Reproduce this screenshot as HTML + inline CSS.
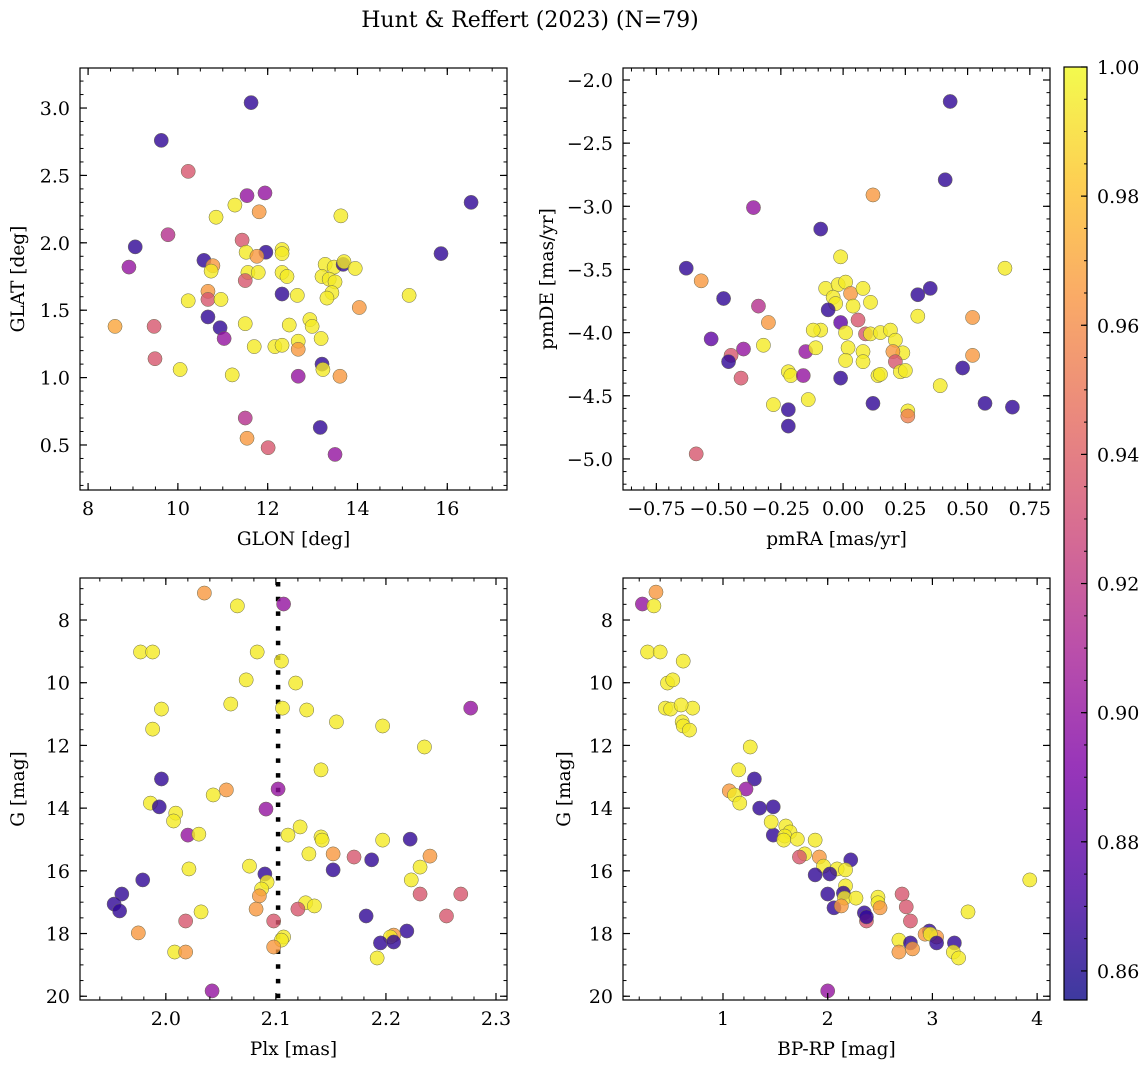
<!DOCTYPE html>
<html><head><meta charset="utf-8">
<style>
html,body{margin:0;padding:0;background:#fff;}
svg{display:block;font-family:"DejaVu Serif","Liberation Serif",serif;}
</style></head>
<body>
<svg id="fig" width="1148" height="1067" viewBox="0 0 1148 1067" xmlns="http://www.w3.org/2000/svg">
<text x="530" y="27" font-size="22" text-anchor="middle">Hunt &amp; Reffert (2023) (N=79)</text>
</svg>
<script>
// colour value codes
const D=0.865,P=0.90,M=0.915,K=0.935,O=0.965,Y=0.995;
// Panel 1: GLON vs GLAT
const glon=[11.63,9.63,10.23,16.53,11.54,11.94,11.27,10.85,13.63,11.81,9.78,9.05,8.91,11.43,10.58,10.78,10.74,11.52,11.96,12.32,12.32,11.56,11.79,12.32,12.43,11.50,11.76,13.28,13.48,13.68,13.70,13.95,15.86,13.21,13.37,13.50,13.43,13.32,12.66,12.32,10.67,10.67,10.96,10.23,14.04,15.15,8.60,9.47,10.67,10.94,11.03,11.50,12.48,12.94,12.99,13.19,12.16,12.32,11.70,12.68,12.68,9.49,10.05,13.21,13.23,11.21,12.68,13.61,11.50,13.17,11.54,12.01,13.50];
const glat=[3.04,2.76,2.53,2.30,2.35,2.37,2.28,2.19,2.20,2.23,2.06,1.97,1.82,2.02,1.87,1.83,1.79,1.93,1.93,1.95,1.92,1.78,1.78,1.78,1.75,1.72,1.90,1.84,1.82,1.84,1.86,1.81,1.92,1.75,1.73,1.71,1.63,1.59,1.61,1.62,1.64,1.58,1.58,1.57,1.52,1.61,1.38,1.38,1.45,1.37,1.29,1.40,1.39,1.43,1.38,1.29,1.23,1.24,1.23,1.27,1.21,1.14,1.06,1.10,1.06,1.02,1.01,1.01,0.70,0.63,0.55,0.48,0.43];
const c1=[D,D,K,D,P,P,Y,Y,Y,O,M,D,P,K,D,O,Y,Y,D,Y,Y,Y,Y,Y,Y,K,O,Y,Y,D,Y,Y,D,Y,Y,Y,Y,Y,Y,D,O,K,Y,Y,O,Y,0.97,K,D,D,P,Y,Y,Y,Y,Y,Y,Y,Y,Y,O,K,Y,D,Y,Y,P,O,M,D,O,K,P];
// Panel 2: pmRA vs pmDE
const pmra=[0.43,0.41,-0.36,0.12,-0.09,-0.63,-0.57,0.65,-0.01,-0.07,-0.02,0.01,0.03,0.08,0.35,0.30,-0.48,-0.34,-0.04,-0.03,0.04,0.11,-0.06,-0.01,0.06,0.52,0.30,-0.53,-0.09,-0.12,0.01,0.09,0.11,0.15,0.19,-0.30,-0.32,-0.40,-0.45,-0.46,-0.15,-0.11,0.02,0.08,0.21,0.24,0.20,0.52,0.01,0.08,0.21,0.14,0.15,0.23,0.25,-0.22,-0.21,-0.16,-0.41,-0.01,0.48,0.39,-0.14,-0.28,0.12,0.57,0.68,-0.22,0.26,0.26,-0.22,-0.59];
const pmde=[-2.17,-2.79,-3.01,-2.91,-3.18,-3.49,-3.59,-3.49,-3.40,-3.65,-3.62,-3.60,-3.69,-3.65,-3.65,-3.70,-3.73,-3.79,-3.72,-3.77,-3.79,-3.76,-3.82,-3.92,-3.90,-3.88,-3.87,-4.05,-3.98,-3.98,-4.00,-4.01,-4.01,-4.00,-3.98,-3.92,-4.10,-4.13,-4.18,-4.23,-4.15,-4.12,-4.12,-4.15,-4.06,-4.16,-4.15,-4.18,-4.22,-4.23,-4.23,-4.34,-4.33,-4.31,-4.30,-4.31,-4.34,-4.34,-4.36,-4.36,-4.28,-4.42,-4.53,-4.57,-4.56,-4.56,-4.59,-4.61,-4.62,-4.66,-4.74,-4.96];
const c2=[D,D,P,O,D,D,O,Y,Y,Y,Y,Y,O,Y,D,D,D,M,Y,Y,Y,Y,D,0.88,K,O,Y,0.88,Y,Y,Y,K,Y,Y,Y,O,Y,P,K,D,P,Y,Y,Y,Y,Y,O,O,Y,Y,K,Y,Y,Y,Y,Y,Y,P,K,D,D,Y,Y,Y,D,D,D,D,Y,0.955,D,K];
// Panel 3: Plx vs G
const plx=[2.035,2.107,2.065,1.977,1.988,2.083,2.105,2.073,2.118,2.277,1.996,2.059,2.106,2.128,2.155,2.197,1.988,2.235,2.141,1.996,2.055,2.102,2.043,1.986,1.994,2.091,2.009,2.007,2.111,2.020,2.030,2.122,2.141,2.142,2.197,2.222,2.130,2.152,2.171,2.187,2.240,2.231,2.021,2.076,2.152,2.090,2.092,2.223,1.979,1.960,2.231,1.953,1.958,2.087,2.085,2.127,2.135,2.082,2.120,2.032,2.018,2.098,1.975,2.107,2.105,2.182,2.219,2.207,2.204,2.195,2.207,2.008,2.018,2.098,2.192,2.042,2.268,2.255];
const gp=[7.14,7.49,7.55,9.02,9.02,9.02,9.31,9.91,10.01,10.81,10.84,10.68,10.81,10.87,11.25,11.38,11.48,12.05,12.78,13.07,13.42,13.39,13.58,13.84,13.96,14.03,14.16,14.41,14.86,14.86,14.83,14.60,14.92,15.02,15.02,14.99,15.46,15.46,15.56,15.65,15.53,15.88,15.94,15.85,15.97,16.10,16.36,16.29,16.29,16.74,16.74,17.06,17.28,16.58,16.80,17.02,17.12,17.22,17.22,17.31,17.60,17.60,17.98,18.11,18.21,17.44,17.92,18.05,18.11,18.30,18.27,18.59,18.59,18.43,18.78,19.83,16.74,17.44];
const c3=[O,P,Y,Y,Y,Y,Y,Y,Y,P,Y,Y,Y,Y,Y,Y,Y,Y,Y,D,O,P,Y,Y,D,P,Y,Y,Y,P,Y,Y,Y,Y,Y,D,Y,O,K,D,O,Y,Y,Y,D,D,Y,Y,D,D,K,D,D,Y,O,Y,Y,O,K,Y,K,K,O,Y,Y,D,D,O,Y,D,D,Y,O,O,Y,P,K,K];
// Panel 4: BP-RP vs G
const bprp=[0.23,0.36,0.34,0.28,0.40,0.62,0.47,0.52,0.45,0.50,0.71,0.60,0.61,0.62,0.68,1.26,1.15,1.30,1.22,1.06,1.11,1.16,1.35,1.48,1.48,1.46,1.60,1.64,1.59,1.71,1.88,1.58,1.78,1.73,1.92,2.22,1.96,2.09,2.02,1.88,2.17,2.17,3.93,2.00,2.15,2.16,2.48,2.71,2.27,2.06,2.13,2.35,2.48,2.50,2.75,3.34,2.37,2.37,2.79,2.97,2.93,3.04,2.68,2.98,2.79,3.04,3.21,2.81,2.68,3.20,3.25,2.00];
const g4=[7.49,7.11,7.55,9.02,9.02,9.31,10.01,9.91,10.81,10.84,10.81,10.71,11.25,11.38,11.51,12.05,12.78,13.07,13.39,13.45,13.58,13.84,14.00,13.96,14.86,14.44,14.57,14.76,14.89,14.99,15.02,15.02,15.46,15.56,15.56,15.65,15.85,15.94,16.10,16.13,15.97,16.48,16.29,16.74,16.71,16.87,16.84,16.74,16.87,17.18,17.12,17.34,17.02,17.18,17.15,17.31,17.60,17.47,17.60,17.92,18.02,18.11,18.21,18.02,18.30,18.30,18.30,18.49,18.59,18.59,18.78,19.83];
const c4=[P,O,Y,Y,Y,Y,Y,Y,Y,Y,Y,Y,Y,Y,Y,Y,Y,D,P,O,Y,Y,D,D,D,Y,Y,Y,Y,Y,Y,Y,Y,K,O,D,Y,Y,D,D,Y,Y,Y,D,D,Y,Y,K,Y,D,O,D,Y,O,K,Y,K,D,K,D,O,O,Y,Y,D,D,D,O,O,Y,Y,P];
// Tick labels
const t1x=[8,10,12,14,16], t1y=[0.5,1.0,1.5,2.0,2.5,3.0];
const t2x=[-0.75,-0.50,-0.25,0.00,0.25,0.50,0.75], t2y=[-5.0,-4.5,-4.0,-3.5,-3.0,-2.5,-2.0];
const t3x=[2.0,2.1,2.2,2.3], tGy=[8,10,12,14,16,18,20];
const t4x=[1,2,3,4];
const tcb=[0.86,0.88,0.90,0.92,0.94,0.96,0.98,1.00];
const plxLine=2.102;

const NS='http://www.w3.org/2000/svg';
const svg=document.getElementById('fig');
function mk(tag,attrs,parent){const e=document.createElementNS(NS,tag);for(const k in attrs)e.setAttribute(k,attrs[k]);(parent||svg).appendChild(e);return e;}
const stops=[[0,[13,8,135]],[0.125,[76,2,161]],[0.25,[126,3,168]],[0.375,[169,35,149]],[0.5,[204,71,120]],[0.625,[229,107,93]],[0.75,[248,148,65]],[0.875,[253,195,40]],[1,[240,249,33]]];
const CMIN=0.8555,CMAX=1.0;
const FT=19, FL=18.5;
function plasma(t){t=Math.max(0,Math.min(1,t));for(let i=1;i<stops.length;i++){if(t<=stops[i][0]){const a=stops[i-1],b=stops[i];const f=(t-a[0])/(b[0]-a[0]);const c=a[1].map((v,j)=>Math.round(v+(b[1][j]-v)*f));return 'rgb('+c.join(',')+')';}}return 'rgb(240,249,33)';}
function fmt(v,d){let s=v.toFixed(d);return s.replace('-','\u2212');}

function panel(o){
  const g=mk('g',{});
  
  
  const sx=v=>o.x0+(v-o.xmin)/(o.xmax-o.xmin)*(o.x1-o.x0);
  const sy=v=>o.inv? o.y0+(v-o.ymin)/(o.ymax-o.ymin)*(o.y1-o.y0) : o.y1-(v-o.ymin)/(o.ymax-o.ymin)*(o.y1-o.y0);
  const clip='clip-'+o.name;
  const cp=mk('clipPath',{id:clip},g);mk('rect',{x:o.x0,y:o.y0,width:o.x1-o.x0,height:o.y1-o.y0},cp);
  if(o.vline!==undefined){
    const l=mk('line',{x1:sx(o.vline),x2:sx(o.vline),y1:o.y0+4,y2:o.y1,stroke:'#000','stroke-width':4.5,'stroke-dasharray':'4.5,10.2'},g);
    
    
  }
  const pts=mk('g',{'clip-path':'url(#'+clip+')'},g);
  
  
  for(let i=0;i<o.xs.length;i++){
    const c=mk('circle',{cx:sx(o.xs[i]),cy:sy(o.ys[i]),r:7.1,fill:plasma((o.cs[i]-CMIN)/(CMAX-CMIN)),'fill-opacity':0.8,stroke:'#6a6a50','stroke-width':0.5},pts);
    
    
  }
  mk('rect',{x:o.x0,y:o.y0,width:o.x1-o.x0,height:o.y1-o.y0,fill:'none',stroke:'#000','stroke-width':1.2},g);
  const eps=1e-9;
  for(let v=Math.ceil(o.xmin/o.xmn)*o.xmn;v<=o.xmax+eps;v+=o.xmn){const x=sx(v);mk('line',{x1:x,x2:x,y1:o.y1,y2:o.y1-3.5,stroke:'#000','stroke-width':1},g);mk('line',{x1:x,x2:x,y1:o.y0,y2:o.y0+3.5,stroke:'#000','stroke-width':1},g);}
  for(let v=Math.ceil(o.ymin/o.ymn)*o.ymn;v<=o.ymax+eps;v+=o.ymn){const y=sy(v);mk('line',{x1:o.x0,x2:o.x0+3.5,y1:y,y2:y,stroke:'#000','stroke-width':1},g);mk('line',{x1:o.x1,x2:o.x1-3.5,y1:y,y2:y,stroke:'#000','stroke-width':1},g);}
  o.xt.forEach(v=>{const x=sx(v);mk('line',{x1:x,x2:x,y1:o.y1,y2:o.y1-7,stroke:'#000','stroke-width':1.2},g);mk('line',{x1:x,x2:x,y1:o.y0,y2:o.y0+7,stroke:'#000','stroke-width':1.2},g);
    const t=mk('text',{x:x,y:o.y1+25,'font-size':FT,'text-anchor':'middle'},g);t.textContent=fmt(v,o.xd);});
  o.yt.forEach(v=>{const y=sy(v);mk('line',{x1:o.x0,x2:o.x0+7,y1:y,y2:y,stroke:'#000','stroke-width':1.2},g);mk('line',{x1:o.x1,x2:o.x1-7,y1:y,y2:y,stroke:'#000','stroke-width':1.2},g);
    const t=mk('text',{x:o.x0-10,y:y+7,'font-size':FT,'text-anchor':'end'},g);t.textContent=fmt(v,o.yd);});
  const xl=mk('text',{x:(o.x0+o.x1)/2,y:o.y1+55,'font-size':FL,'text-anchor':'middle'},g);xl.textContent=o.xlab;
  
  const yx=o.ylx,yc=(o.y0+o.y1)/2;
  const yl=mk('text',{x:yx,y:yc,'font-size':FL,'text-anchor':'middle',transform:'rotate(-90 '+yx+' '+yc+')'},g);yl.textContent=o.ylab;
  
}

panel({name:'glon-glat-panel',x0:80,x1:507,y0:68,y1:490,xmin:7.82,xmax:17.33,ymin:0.166,ymax:3.297,xs:glon,ys:glat,cs:c1,xt:t1x,yt:t1y,xmn:0.5,ymn:0.1,xd:0,yd:1,xlab:'GLON [deg]',ylab:'GLAT [deg]',ylx:24});
panel({name:'proper-motion-panel',x0:623,x1:1050,y0:68,y1:490,xmin:-0.884,xmax:0.831,ymin:-5.246,ymax:-1.905,xs:pmra,ys:pmde,cs:c2,xt:t2x,yt:t2y,xmn:0.05,ymn:0.1,xd:2,yd:1,xlab:'pmRA [mas/yr]',ylab:'pmDE [mas/yr]',ylx:553});
panel({name:'parallax-magnitude-panel',x0:80,x1:507,y0:578,y1:1000,xmin:1.922,xmax:2.31,ymin:6.66,ymax:20.12,inv:true,xs:plx,ys:gp,cs:c3,xt:t3x,yt:tGy,xmn:0.02,ymn:0.5,xd:1,yd:0,xlab:'Plx [mas]',ylab:'G [mag]',ylx:24,vline:plxLine});
panel({name:'color-magnitude-panel',x0:623,x1:1050,y0:578,y1:1000,xmin:0.045,xmax:4.123,ymin:6.66,ymax:20.12,inv:true,xs:bprp,ys:g4,cs:c4,xt:t4x,yt:tGy,xmn:0.2,ymn:0.5,xd:0,yd:0,xlab:'BP-RP [mag]',ylab:'G [mag]',ylx:570});

// colorbar
const cb=mk('g',{});


const defs=mk('defs',{},cb);
const lg=mk('linearGradient',{id:'cbg',x1:0,y1:1,x2:0,y2:0},defs);
stops.forEach(s=>mk('stop',{offset:s[0],'stop-color':'rgb('+s[1].join(',')+')'},lg));
const CB={x0:1064,x1:1087,y0:67,y1:1000};
mk('rect',{x:CB.x0,y:CB.y0,width:CB.x1-CB.x0,height:CB.y1-CB.y0,fill:'url(#cbg)','fill-opacity':0.8,stroke:'#000','stroke-width':1.2},cb);
const cy=v=>CB.y1-(v-CMIN)/(CMAX-CMIN)*(CB.y1-CB.y0);
for(let v=0.86;v<=1.0001;v+=0.005){const y=cy(v);mk('line',{x1:CB.x1,x2:CB.x1-3,y1:y,y2:y,stroke:'#000','stroke-width':1},cb);}
tcb.forEach(v=>{const y=cy(v);mk('line',{x1:CB.x1,x2:CB.x1-6,y1:y,y2:y,stroke:'#000','stroke-width':1.2},cb);
  const t=mk('text',{x:CB.x1+10,y:y+7,'font-size':FT},cb);t.textContent=v.toFixed(2);
  });
</script>
</body></html>
